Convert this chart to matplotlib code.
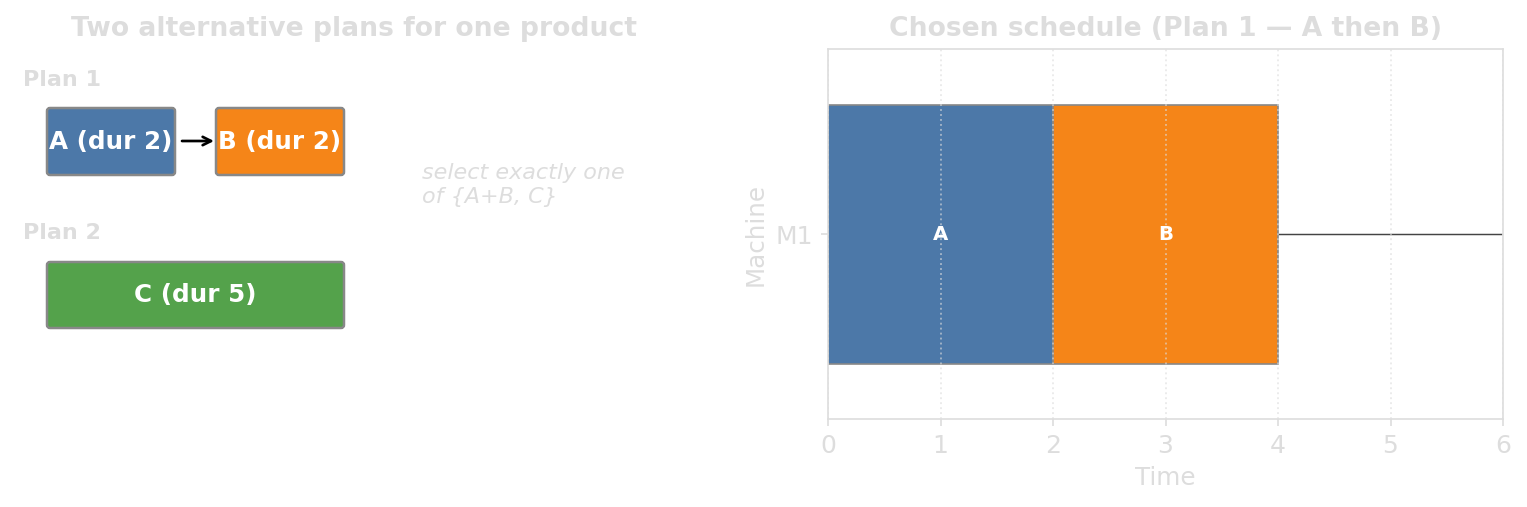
import matplotlib.pyplot as plt
from matplotlib.patches import FancyBboxPatch

# data
plan1_tasks = ['A', 'B']
plan1_durs = [2, 2]
plan2_tasks = ['C']
plan2_durs = [5]
sched_tasks = ['A', 'B']
sched_starts = [0, 2]
sched_durs = [2, 2]
machines = ['M1']

colors = {'A': '#4c78a8', 'B': '#f58518', 'C': '#54a24b'}
light = '#dddddd'
edge = '#888888'

fig = plt.figure(figsize=(1527 / 150, 507 / 150), dpi=150)

# kiri: diagram rencana (koordinat dalam piksel)
ax1 = fig.add_axes([0, 1 - 419 / 507, 708 / 1527, 370 / 507])
ax1.set_xlim(0, 708)
ax1.set_ylim(419, 49)
ax1.axis('off')
ax1.set_title('Two alternative plans for one product', fontsize=12.75,
              fontweight='bold', color=light)


def box(ax, x, y, w, h, label, color):
    p = FancyBboxPatch((x, y), w, h, boxstyle='round,pad=0,rounding_size=3',
                       facecolor=color, edgecolor=edge, linewidth=1.2)
    ax.add_patch(p)
    ax.text(x + w / 2, y + h / 2, label, ha='center', va='center',
            color='white', fontsize=11.8, fontweight='bold')


ax1.text(23, 80, 'Plan 1', ha='left', va='center', fontsize=10.7,
         fontweight='bold', color=light)
xs = [47, 216]
for x, t, d in zip(xs, plan1_tasks, plan1_durs):
    box(ax1, x, 108, 128, 67, f'{t} (dur {d})', colors[t])
ax1.annotate('', xy=(214, 141), xytext=(182, 141),
             arrowprops=dict(arrowstyle='->', color='black', lw=1.3,
                             shrinkA=0, shrinkB=0))

ax1.text(23, 233, 'Plan 2', ha='left', va='center', fontsize=10.7,
         fontweight='bold', color=light)
for t, d in zip(plan2_tasks, plan2_durs):
    box(ax1, 47, 262, 297, 66, f'{t} (dur {d})', colors[t])

ax1.text(422, 185, 'select exactly one\nof {A+B, C}', ha='left', va='center',
         fontsize=10.7, fontstyle='italic', color=light, linespacing=1.2)

# kanan: jadwal terpilih
ax2 = fig.add_axes([828 / 1527, 1 - 419 / 507, 675 / 1527, 370 / 507])
ax2.axhline(0, color='#444444', linewidth=0.7, zorder=1)
for t, s, d in zip(sched_tasks, sched_starts, sched_durs):
    ax2.barh(0, d, left=s, height=0.7, color=colors[t], edgecolor=edge,
             linewidth=0.8, zorder=2)
    ax2.text(s + d / 2, 0, t, ha='center', va='center', color='white',
             fontsize=9.5, fontweight='bold', zorder=4)

ax2.set_xlim(0, 6)
ax2.set_ylim(-0.5, 0.5)
ax2.set_yticks(range(len(machines)))
ax2.set_yticklabels(machines)
ax2.grid(axis='x', linestyle=':', color=light, linewidth=0.9, alpha=0.6,
         zorder=3)
ax2.set_axisbelow(False)
ax2.set_xlabel('Time', fontsize=11.8, color=light)
ax2.set_ylabel('Machine', fontsize=11.8, color=light)
ax2.set_title('Chosen schedule (Plan 1 — A then B)', fontsize=12.75,
              fontweight='bold', color=light)
ax2.tick_params(colors=light, labelsize=12)
for sp in ax2.spines.values():
    sp.set_color(light)

plt.savefig('out.png', dpi=150)
